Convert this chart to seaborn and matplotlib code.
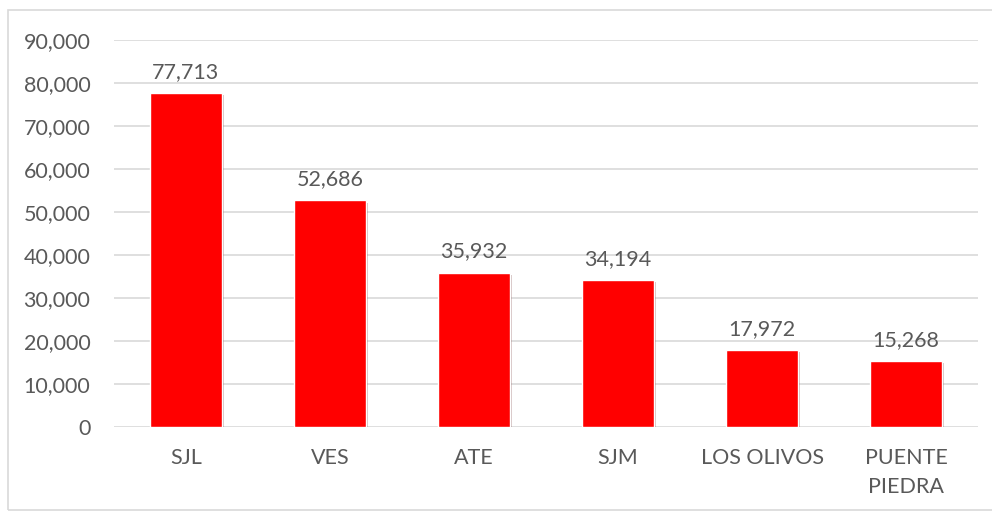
import matplotlib
matplotlib.use("Agg")
import matplotlib.pyplot as plt
import matplotlib.patheffects as pe
from matplotlib.patches import Rectangle
import seaborn as sns
import pandas as pd

# Data
districts = ['SJL', 'VES', 'ATE', 'SJM', 'LOS OLIVOS', 'PUENTE\nPIEDRA']
cases = [77713, 52686, 35932, 34194, 17972, 15268]
yticks = [0, 10000, 20000, 30000, 40000, 50000, 60000, 70000, 80000, 90000]

df = pd.DataFrame({'district': districts, 'cases': cases})

sns.set_style('white')
plt.rcParams['font.family'] = ['Lato', 'DejaVu Sans']
text_color = '#595959'
grid_color = '#d9d9d9'
fs = 15.5

fig = plt.figure(figsize=(9.92, 5.13), dpi=100)
ax = fig.add_axes([0.1149, 0.1676, 0.871, 0.7544])

sns.barplot(data=df, x='district', y='cases', color='#ff0000', saturation=1,
            width=0.5, ax=ax, zorder=3)

for bar in ax.patches:
    bar.set_path_effects([pe.SimplePatchShadow(offset=(1.5, -1.5), alpha=0.25),
                          pe.Normal()])

ax.set_ylim(0, 90000)
ax.set_yticks(yticks)
ax.set_yticklabels([f'{v:,}' for v in yticks])
ax.yaxis.grid(True, color=grid_color, linewidth=1.2, zorder=0)
ax.set_axisbelow(True)

for s in ax.spines.values():
    s.set_visible(False)

ax.tick_params(axis='y', length=0, pad=17, labelsize=fs, labelcolor=text_color)
ax.tick_params(axis='x', length=0, pad=15, labelsize=fs, labelcolor=text_color)
for lbl in ax.get_xticklabels():
    lbl.set_linespacing(1.55)
ax.set_xlabel('')
ax.set_ylabel('')

for bar, v in zip(ax.patches, cases):
    ax.annotate(f'{v:,}', (bar.get_x() + bar.get_width() / 2, v),
                xytext=(0, 8), textcoords='offset points',
                ha='center', va='bottom', fontsize=fs, color=text_color)

# chart border
fig.patches.append(Rectangle((8 / 992, 3 / 513), 1.2, 500 / 513,
                             transform=fig.transFigure, fill=False,
                             edgecolor=grid_color, linewidth=1.2))

fig.savefig('out.png', dpi=100)
